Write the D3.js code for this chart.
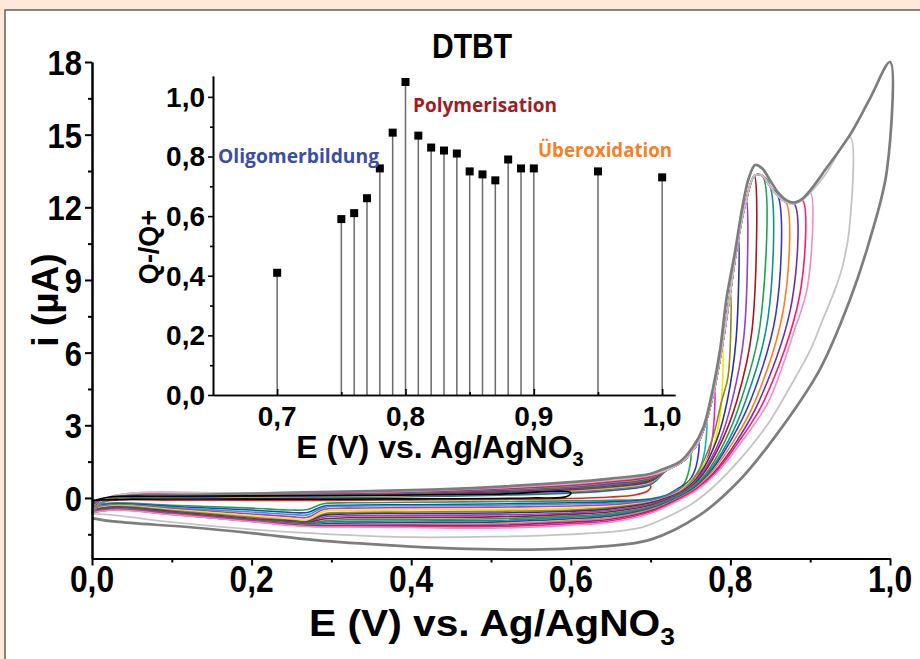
<!DOCTYPE html>
<html>
<head>
<meta charset="utf-8">
<script src="https://cdn.jsdelivr.net/npm/d3@7"></script>
<style>
  body { margin: 0; background: #fde9d9; }
  svg { display: block; }
  text { font-family: "Liberation Sans", Arial, sans-serif; font-weight: bold; fill: #000; }
  text.note { font-family: "Open Sans", "Noto Sans", sans-serif; }
</style>
</head>
<body>
<svg id="chart" width="920" height="659"></svg>
<script>
// vertex potential of every CV cycle (V)
const vertexPotentials = [0.60, 0.70, 0.75, 0.76, 0.77, 0.78, 0.79, 0.80, 0.81, 0.82,
  0.83, 0.84, 0.85, 0.86, 0.87, 0.88, 0.89, 0.90, 0.95, 1.00];

const cycleColors = ["#000000", "#f0201a", "#1aa84a", "#3535c8", "#10b2c2", "#dd26c4", "#f2e600",
  "#8c8a1c", "#2f2f9c", "#9a40c0", "#a3191c", "#1aa35a", "#138f8f", "#3b3bb8", "#ff8020",
  "#6a30b0", "#ff1a6e", "#f08cc8", "#c4c4c4", "#7d7d7d"];

// shared oxidation wave [E, i] (V, µA)
const anodicBranch = [[0.72, 1.15], [0.74, 1.5], [0.75, 1.85], [0.76, 2.3], [0.77, 3.2], [0.78, 4.5],
  [0.79, 6.3], [0.80, 8.5], [0.81, 10.7], [0.82, 12.3], [0.83, 13.3], [0.84, 13.3], [0.85, 12.85],
  [0.86, 12.45], [0.87, 12.2], [0.88, 12.15], [0.89, 12.3], [0.90, 12.6], [0.92, 13.4], [0.95, 14.9]];

// forward scans, start of each cycle
const forwardScans = [
  [[0, -0.15], [0.02, 0.03], [0.1, 0.07], [0.3, 0.1], [0.5, 0.15], [0.6, 0.22]],
  [[0, -0.2], [0.02, 0.0], [0.1, 0.05], [0.3, 0.1], [0.5, 0.18], [0.6, 0.27], [0.66, 0.37], [0.70, 0.5]],
  [[0, -0.2], [0.02, -0.03], [0.2, 0.00], [0.4, 0.05], [0.6, 0.20], [0.65, 0.30], [0.70, 0.55]],
  [[0, -0.3], [0.02, -0.03], [0.2, 0.01], [0.4, 0.07], [0.6, 0.23], [0.65, 0.33], [0.70, 0.58]],
  [[0, -0.35], [0.02, -0.03], [0.2, 0.03], [0.4, 0.08], [0.6, 0.25], [0.65, 0.36], [0.70, 0.60]],
  [[0, -0.38], [0.02, -0.03], [0.2, 0.04], [0.4, 0.10], [0.6, 0.28], [0.65, 0.38], [0.70, 0.63]],
  [[0, -0.42], [0.02, -0.03], [0.2, 0.05], [0.4, 0.11], [0.6, 0.30], [0.65, 0.41], [0.70, 0.65]],
  [[0, -0.45], [0.02, -0.02], [0.2, 0.06], [0.4, 0.13], [0.6, 0.33], [0.65, 0.44], [0.70, 0.68]],
  [[0, -0.48], [0.02, -0.02], [0.2, 0.08], [0.4, 0.14], [0.6, 0.35], [0.65, 0.47], [0.70, 0.70]],
  [[0, -0.5], [0.02, -0.02], [0.2, 0.09], [0.4, 0.16], [0.6, 0.38], [0.65, 0.50], [0.70, 0.73]],
  [[0, -0.52], [0.02, -0.02], [0.2, 0.10], [0.4, 0.18], [0.6, 0.40], [0.65, 0.53], [0.70, 0.75]],
  [[0, -0.54], [0.02, -0.01], [0.2, 0.11], [0.4, 0.19], [0.6, 0.43], [0.65, 0.55], [0.70, 0.78]],
  [[0, -0.56], [0.02, -0.01], [0.2, 0.13], [0.4, 0.21], [0.6, 0.45], [0.65, 0.58], [0.70, 0.80]],
  [[0, -0.57], [0.02, -0.01], [0.2, 0.14], [0.4, 0.22], [0.6, 0.48], [0.65, 0.61], [0.70, 0.83]],
  [[0, -0.58], [0.02, 0.0], [0.2, 0.15], [0.4, 0.24], [0.6, 0.50], [0.65, 0.64], [0.70, 0.85]],
  [[0, -0.59], [0.02, 0.0], [0.2, 0.16], [0.4, 0.25], [0.6, 0.53], [0.65, 0.67], [0.70, 0.88]],
  [[0, -0.6], [0.02, 0.0], [0.2, 0.18], [0.4, 0.27], [0.6, 0.55], [0.65, 0.69], [0.70, 0.90]],
  [[0, -0.6], [0.02, 0.01], [0.2, 0.19], [0.4, 0.28], [0.6, 0.58], [0.65, 0.72], [0.70, 0.93]],
  [[0, -0.61], [0.02, 0.01], [0.2, 0.20], [0.4, 0.30], [0.6, 0.60], [0.65, 0.75], [0.70, 0.95]],
  [[0, -0.65], [0.01, -0.25], [0.03, 0.02], [0.1, 0.1], [0.2, 0.18], [0.3, 0.25], [0.4, 0.32], [0.5, 0.45],
    [0.6, 0.65], [0.65, 0.8], [0.70, 1.0], [0.72, 1.25], [0.737, 1.5], [0.753, 2.1], [0.766, 2.9],
    [0.778, 4.5], [0.787, 6.1], [0.795, 8.2], [0.806, 10.2], [0.815, 12.0], [0.823, 13.2], [0.831, 13.75],
    [0.84, 13.6], [0.85, 13.1], [0.86, 12.6], [0.87, 12.3], [0.88, 12.2], [0.89, 12.35], [0.90, 12.7],
    [0.92, 13.6], [0.95, 15.0], [0.975, 16.5], [1.0, 18.0]]
];

// reverse scans, from the vertex back to 0 V
const reverseScans = [
  [[0.595, 0.06], [0.55, 0.0], [0.4, -0.04], [0.2, -0.05], [0.05, -0.05], [0, -0.1]],
  [[0.697, 0.3], [0.68, 0.12], [0.65, 0.04], [0.6, -0.02], [0.5, -0.06], [0.4, -0.08], [0.3, -0.1], [0.2, -0.1], [0.1, -0.09], [0.03, -0.09], [0, -0.2]],
  [[0.747, 1.0], [0.74, 0.5], [0.73, 0.3], [0.72, 0.12], [0.70, -0.03], [0.65, -0.1], [0.6, -0.12], [0.5, -0.15], [0.4, -0.18], [0.32, -0.2], [0.29, -0.24], [0.27, -0.48], [0.25, -0.5], [0.2, -0.42], [0.1, -0.3], [0.03, -0.2], [0, -0.3]],
  [[0.757, 1.3], [0.748, 0.7], [0.735, 0.4], [0.72, 0.1], [0.70, -0.07], [0.65, -0.16], [0.6, -0.2], [0.5, -0.25], [0.4, -0.28], [0.32, -0.3], [0.29, -0.34], [0.27, -0.6], [0.25, -0.6], [0.2, -0.5], [0.1, -0.35], [0.03, -0.24], [0, -0.35]],
  [[0.767, 1.8], [0.758, 1.0], [0.745, 0.55], [0.732, 0.3], [0.72, 0.08], [0.70, -0.1], [0.65, -0.22], [0.6, -0.25], [0.5, -0.3], [0.4, -0.32], [0.32, -0.34], [0.29, -0.4], [0.27, -0.7], [0.25, -0.68], [0.2, -0.58], [0.1, -0.4], [0.03, -0.27], [0, -0.38]],
  [[0.777, 2.4], [0.768, 1.4], [0.752, 0.75], [0.735, 0.3], [0.72, 0.05], [0.70, -0.13], [0.65, -0.28], [0.6, -0.33], [0.5, -0.38], [0.4, -0.4], [0.32, -0.42], [0.29, -0.48], [0.27, -0.8], [0.25, -0.77], [0.2, -0.66], [0.1, -0.44], [0.03, -0.3], [0, -0.42]],
  [[0.787, 3.4], [0.775, 1.8], [0.755, 0.9], [0.737, 0.3], [0.72, 0.02], [0.70, -0.16], [0.65, -0.35], [0.6, -0.42], [0.5, -0.47], [0.4, -0.5], [0.32, -0.51], [0.29, -0.56], [0.27, -0.9], [0.25, -0.86], [0.2, -0.74], [0.1, -0.48], [0.03, -0.32], [0, -0.45]],
  [[0.797, 5.0], [0.789, 4.0], [0.777, 2.4], [0.758, 1.0], [0.739, 0.3], [0.72, 0.0], [0.70, -0.18], [0.65, -0.4], [0.6, -0.5], [0.5, -0.55], [0.4, -0.58], [0.32, -0.6], [0.29, -0.66], [0.27, -0.96], [0.25, -0.92], [0.2, -0.8], [0.1, -0.52], [0.03, -0.35], [0, -0.48]],
  [[0.807, 6.5], [0.796, 4.0], [0.783, 2.4], [0.762, 1.0], [0.741, 0.3], [0.72, 0.0], [0.70, -0.2], [0.65, -0.45], [0.6, -0.55], [0.5, -0.62], [0.4, -0.64], [0.32, -0.66], [0.29, -0.72], [0.27, -0.98], [0.25, -0.95], [0.2, -0.85], [0.1, -0.56], [0.03, -0.38], [0, -0.5]],
  [[0.817, 6.7], [0.802, 4.0], [0.787, 2.4], [0.764, 1.0], [0.743, 0.3], [0.72, -0.04], [0.70, -0.25], [0.65, -0.51], [0.6, -0.62], [0.5, -0.7], [0.4, -0.72], [0.32, -0.74], [0.29, -0.8], [0.27, -1.0], [0.25, -0.98], [0.2, -0.88], [0.1, -0.59], [0.03, -0.4], [0, -0.52]],
  [[0.827, 6.9], [0.808, 4.0], [0.790, 2.4], [0.766, 1.0], [0.745, 0.3], [0.72, -0.08], [0.70, -0.3], [0.65, -0.57], [0.6, -0.68], [0.5, -0.78], [0.4, -0.8], [0.32, -0.82], [0.29, -0.87], [0.27, -1.02], [0.25, -1.0], [0.2, -0.9], [0.1, -0.61], [0.03, -0.42], [0, -0.54]],
  [[0.837, 7.1], [0.813, 4.0], [0.794, 2.4], [0.769, 1.0], [0.746, 0.3], [0.72, -0.12], [0.70, -0.35], [0.65, -0.63], [0.6, -0.74], [0.5, -0.86], [0.4, -0.88], [0.32, -0.9], [0.29, -0.95], [0.27, -1.05], [0.25, -1.02], [0.2, -0.92], [0.1, -0.63], [0.03, -0.44], [0, -0.56]],
  [[0.847, 7.4], [0.819, 4.0], [0.798, 2.4], [0.771, 1.0], [0.748, 0.3], [0.72, -0.16], [0.70, -0.4], [0.65, -0.69], [0.6, -0.8], [0.5, -0.93], [0.4, -0.95], [0.32, -0.97], [0.29, -1.0], [0.27, -1.07], [0.25, -1.04], [0.2, -0.93], [0.1, -0.64], [0.03, -0.45], [0, -0.57]],
  [[0.857, 7.6], [0.825, 4.0], [0.801, 2.4], [0.773, 1.0], [0.750, 0.3], [0.72, -0.2], [0.70, -0.44], [0.65, -0.75], [0.6, -0.86], [0.5, -1.0], [0.4, -1.02], [0.32, -1.04], [0.29, -1.07], [0.27, -1.1], [0.25, -1.06], [0.2, -0.94], [0.1, -0.65], [0.03, -0.46], [0, -0.58]],
  [[0.867, 7.9], [0.831, 4.0], [0.805, 2.4], [0.775, 1.0], [0.752, 0.3], [0.72, -0.23], [0.70, -0.48], [0.65, -0.82], [0.6, -0.93], [0.5, -1.07], [0.4, -1.08], [0.32, -1.1], [0.29, -1.12], [0.27, -1.13], [0.25, -1.08], [0.2, -0.95], [0.1, -0.66], [0.03, -0.47], [0, -0.59]],
  [[0.877, 8.1], [0.836, 4.0], [0.809, 2.4], [0.778, 1.0], [0.754, 0.3], [0.72, -0.27], [0.70, -0.53], [0.65, -0.88], [0.6, -1.0], [0.5, -1.13], [0.4, -1.13], [0.32, -1.14], [0.29, -1.15], [0.27, -1.15], [0.25, -1.1], [0.2, -0.96], [0.1, -0.67], [0.03, -0.48], [0, -0.6]],
  [[0.887, 8.4], [0.842, 4.0], [0.812, 2.4], [0.780, 1.0], [0.755, 0.3], [0.72, -0.31], [0.70, -0.58], [0.65, -0.94], [0.6, -1.06], [0.5, -1.19], [0.4, -1.18], [0.32, -1.18], [0.29, -1.18], [0.27, -1.17], [0.25, -1.12], [0.2, -0.97], [0.1, -0.68], [0.03, -0.49], [0, -0.6]],
  [[0.897, 8.8], [0.880, 6.9], [0.848, 4.0], [0.816, 2.4], [0.782, 1.0], [0.757, 0.3], [0.72, -0.35], [0.70, -0.63], [0.65, -1.0], [0.6, -1.12], [0.5, -1.25], [0.4, -1.22], [0.32, -1.2], [0.29, -1.2], [0.27, -1.18], [0.25, -1.14], [0.2, -0.98], [0.1, -0.69], [0.03, -0.5], [0, -0.61]],
  [[0.949, 11.1], [0.94, 9.5], [0.931, 8.6], [0.915, 7.3], [0.90, 6.1], [0.875, 4.6], [0.85, 3.2], [0.825, 2.1], [0.80, 1.16], [0.775, 0.35], [0.75, -0.28], [0.72, -0.8], [0.69, -1.2], [0.65, -1.4], [0.6, -1.5], [0.5, -1.6], [0.4, -1.62], [0.3, -1.5], [0.2, -1.3], [0.1, -1.0], [0.03, -0.72], [0, -0.65]],
  [[0.996, 13.5], [0.975, 10.7], [0.95, 8.2], [0.912, 5.3], [0.862, 2.8], [0.812, 0.75], [0.762, -0.7], [0.70, -1.72], [0.64, -2.0], [0.55, -2.13], [0.45, -2.08], [0.38, -1.97], [0.28, -1.74], [0.2, -1.45], [0.12, -1.2], [0.03, -0.98], [0, -0.83]]
];

// inset: charge ratio per vertex potential
const chargeE = [0.70, 0.75, 0.76, 0.77, 0.78, 0.79, 0.80, 0.81, 0.82, 0.83, 0.84, 0.85, 0.86, 0.87, 0.88, 0.89, 0.90, 0.95, 1.00];
const chargeRatio = [0.41, 0.59, 0.61, 0.66, 0.76, 0.88, 1.05, 0.87, 0.83, 0.82, 0.81, 0.75, 0.74, 0.72, 0.79, 0.76, 0.76, 0.75, 0.73];

const mainXTicks = [0, 0.2, 0.4, 0.6, 0.8, 1.0];
const mainXMinor = [0.1, 0.3, 0.5, 0.7, 0.9];
const mainYTicks = [0, 3, 6, 9, 12, 15, 18];
const mainYMinor = [-1.5, 1.5, 4.5, 7.5, 10.5, 13.5, 16.5];
const insetXTicks = [0.7, 0.8, 0.9, 1.0];
const insetXMinor = [0.75, 0.85, 0.95];
const insetYTicks = [0, 0.2, 0.4, 0.6, 0.8, 1.0];
const insetYMinor = [0.1, 0.3, 0.5, 0.7, 0.9];

const comma = d3.formatLocale({decimal: ",", thousands: ".", grouping: [3], currency: ["", ""]}).format(".1f");

const svg = d3.select("#chart");

// white panel
svg.append("rect")
  .attr("x", 5).attr("y", 10).attr("width", 960).attr("height", 700)
  .attr("fill", "#fff").attr("stroke", "#5f5f5f").attr("stroke-width", 1.5);

const x = d3.scaleLinear().domain([0, 1]).range([92, 890]);
const y = d3.scaleLinear().domain([-2.5, 18]).range([558.5, 62]);

const line = d3.line()
  .x(d => x(d[0]))
  .y(d => y(d[1]))
  .curve(d3.curveCatmullRom.alpha(0.5));

function cyclePoints(k) {
  const fwd = forwardScans[k];
  const last = fwd[fwd.length - 1][0];
  const rise = anodicBranch.filter(p => p[0] > last + 1e-9 && p[0] <= vertexPotentials[k] + 1e-9);
  return fwd.concat(rise, reverseScans[k]);
}

// draw the cycles, black one last so it stays visible
const order = d3.range(1, vertexPotentials.length).concat([0]);
svg.append("g").selectAll("path")
  .data(order)
  .join("path")
  .attr("d", k => line(cyclePoints(k)))
  .attr("fill", "none")
  .attr("stroke", k => cycleColors[k])
  .attr("stroke-width", k => k === 19 ? 2.7 : (k === 18 ? 1.8 : 1.6))
  .attr("stroke-linejoin", "round");

// main axes
function styleAxis(g, w) {
  g.select(".domain").attr("stroke", "#000").attr("stroke-width", w);
  g.selectAll(".tick line").attr("stroke", "#000").attr("stroke-width", w);
  g.selectAll(".tick text").remove();
}

svg.append("g").attr("transform", "translate(0,558.5)")
  .call(d3.axisBottom(x).tickValues(mainXTicks).tickSize(7).tickSizeOuter(0).tickFormat(""))
  .call(g => styleAxis(g, 2));
svg.append("g").attr("transform", "translate(0,558.5)")
  .call(d3.axisBottom(x).tickValues(mainXMinor).tickSize(4).tickSizeOuter(0).tickFormat(""))
  .call(g => styleAxis(g, 2));
svg.append("g").attr("transform", "translate(92,0)")
  .call(d3.axisLeft(y).tickValues(mainYTicks).tickSize(7).tickSizeOuter(0).tickFormat(""))
  .call(g => styleAxis(g, 2));
svg.append("g").attr("transform", "translate(92,0)")
  .call(d3.axisLeft(y).tickValues(mainYMinor).tickSize(4).tickSizeOuter(0).tickFormat(""))
  .call(g => styleAxis(g, 2));

// condensed bold labels
function narrowText(px, py, str, size, anchor, sx) {
  return svg.append("text")
    .attr("transform", `translate(${px},${py}) scale(${sx},1)`)
    .attr("text-anchor", anchor)
    .attr("font-size", size)
    .text(str);
}

mainXTicks.forEach(v => narrowText(x(v), 592, comma(v), 37, "middle", 0.86));
mainYTicks.forEach(v => narrowText(82, y(v) + 13, String(v), 36, "end", 0.86));

const xTitle = narrowText(492, 636, "E (V) vs. Ag/AgNO", 37, "middle", 1.1);
xTitle.append("tspan").attr("font-size", 24).attr("dy", 9).text("3");

svg.append("text")
  .attr("transform", "translate(58,300) rotate(-90)")
  .attr("text-anchor", "middle")
  .attr("font-size", 37)
  .text("i (\u00b5A)");

narrowText(472, 58, "DTBT", 35, "middle", 0.86);

// inset
const xi = d3.scaleLinear().domain([0.65, 1.01]).range([213, 675]);
const yi = d3.scaleLinear().domain([0, 1.07]).range([395, 76]);

const inset = svg.append("g");

inset.append("g").selectAll("line")
  .data(chargeE)
  .join("line")
  .attr("x1", d => xi(d)).attr("x2", d => xi(d))
  .attr("y1", yi(0))
  .attr("y2", (d, i) => yi(chargeRatio[i]))
  .attr("stroke", "#6a6a6a").attr("stroke-width", 1.5);

inset.append("g").attr("transform", "translate(0,395)")
  .call(d3.axisTop(xi).tickValues(insetXTicks).tickSize(6).tickSizeOuter(0).tickFormat(""))
  .call(g => styleAxis(g, 1.6));
inset.append("g").attr("transform", "translate(0,395)")
  .call(d3.axisTop(xi).tickValues(insetXMinor).tickSize(3).tickSizeOuter(0).tickFormat(""))
  .call(g => styleAxis(g, 1.6));
inset.append("g").attr("transform", "translate(213,0)")
  .call(d3.axisLeft(yi).tickValues(insetYTicks).tickSize(5).tickSizeOuter(0).tickFormat(""))
  .call(g => styleAxis(g, 1.6));
inset.append("g").attr("transform", "translate(213,0)")
  .call(d3.axisLeft(yi).tickValues(insetYMinor).tickSize(3).tickSizeOuter(0).tickFormat(""))
  .call(g => styleAxis(g, 1.6));

inset.append("g").selectAll("rect")
  .data(chargeE)
  .join("rect")
  .attr("x", d => xi(d) - 4)
  .attr("y", (d, i) => yi(chargeRatio[i]) - 4)
  .attr("width", 8).attr("height", 8)
  .attr("fill", "#000");

insetYTicks.forEach(v => inset.append("text")
  .attr("x", 205).attr("y", yi(v) + 10)
  .attr("text-anchor", "end").attr("font-size", 28)
  .text(comma(v)));
insetXTicks.forEach(v => inset.append("text")
  .attr("x", xi(v)).attr("y", 426)
  .attr("text-anchor", "middle").attr("font-size", 28)
  .text(comma(v)));

const xiTitle = inset.append("text")
  .attr("x", 440).attr("y", 458)
  .attr("text-anchor", "middle").attr("font-size", 32)
  .text("E (V) vs. Ag/AgNO");
xiTitle.append("tspan").attr("font-size", 20).attr("dy", 8).text("3");

inset.append("text")
  .attr("transform", "translate(158,247) rotate(-90)")
  .attr("text-anchor", "middle").attr("font-size", 27)
  .text("Q-/Q+");

// phase annotations
const notes = [
  {t: "Oligomerbildung", x: 218, y: 163, w: 161, c: "#3c4da6"},
  {t: "Polymerisation", x: 413, y: 112, w: 144, c: "#a01c22"},
  {t: "\u00dcberoxidation", x: 538, y: 157, w: 134, c: "#f58025"}
];
inset.selectAll("text.note")
  .data(notes)
  .join("text")
  .attr("class", "note")
  .attr("x", d => d.x).attr("y", d => d.y)
  .attr("font-size", 20)
  .attr("textLength", d => d.w)
  .attr("lengthAdjust", "spacingAndGlyphs")
  .style("fill", d => d.c)
  .text(d => d.t);
</script>
</body>
</html>
